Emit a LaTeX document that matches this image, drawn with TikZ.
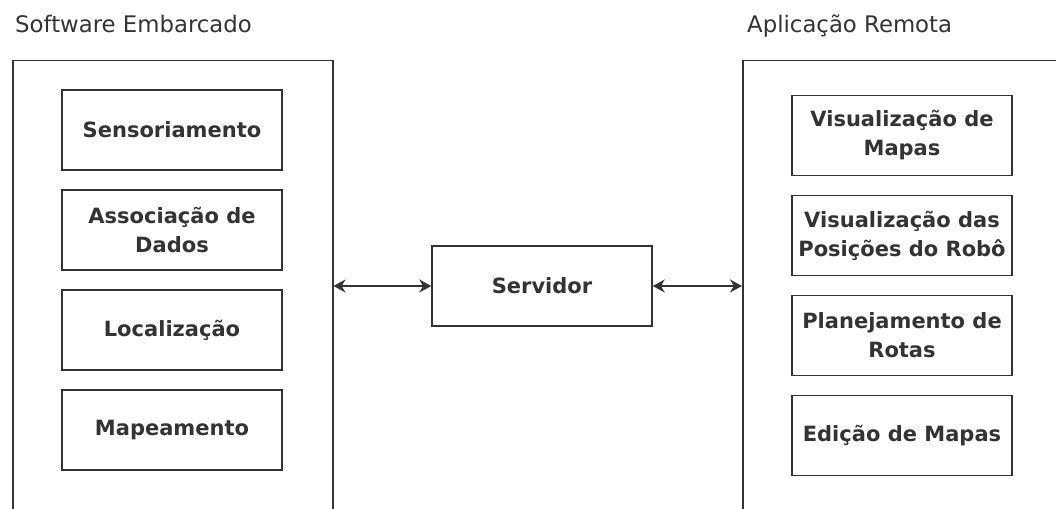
\documentclass[tikz,border=0pt]{standalone}
\usepackage{fontspec}
\setmainfont{DejaVu Sans}
\usetikzlibrary{arrows.meta, positioning}
\definecolor{linegray}{HTML}{333333}
\tikzset{
  module/.style={
    rectangle, draw=linegray, line width=1.5pt,
    fill=white, minimum width=220pt, minimum height=80pt,
    align=center, text=linegray, inner sep=2pt,
    font=\fontsize{21}{29}\selectfont\bfseries
  },
  frame/.style={
    rectangle, draw=linegray, line width=1.5pt,
    anchor=north west, minimum width=320pt, minimum height=500pt
  },
  caption/.style={
    anchor=base west, inner sep=0pt, text=linegray,
    font=\fontsize{22.8}{26}\selectfont
  },
  link/.style={{Stealth[length=12pt,width=13pt]}-{Stealth[length=12pt,width=13pt]},
    line width=1.5pt, draw=linegray}
}
\begin{document}
\begin{tikzpicture}[x=1pt, y=-1pt, node distance=18.5pt]
\useasboundingbox (0,0) rectangle (1056,508);
\clip (0,0) rectangle (1056,508);

% containers
\node[frame] (emb) at (12,60) {};
\node[frame] (app) at (742,60) {};
\node[caption] (embtitle) at (15,33) {Software Embarcado};
\node[caption] (apptitle) at (747,33) {Aplicação Remota};

% embedded software
\node[module] (sens) at (172,130) {Sensoriamento};
\node[module, below=of sens] (assoc) {Associação de\\Dados};
\node[module, below=of assoc] (loc) {Localização};
\node[module, below=of loc] (mapp) {Mapeamento};

% remote application
\node[module] (vismap) at (902,135.5) {Visualização de\\Mapas};
\node[module, below=of vismap] (vispos) {Visualização das\\Posições do Robô};
\node[module, below=of vispos] (plan) {Planejamento de\\Rotas};
\node[module, below=of plan] (edit) {Edição de Mapas};

\node[module] (srv) at (542,286) {Servidor};

\draw[link] (srv.west -| emb.east) -- (srv.west);
\draw[link] (srv.east) -- (srv.east -| app.west);

\end{tikzpicture}
\end{document}
